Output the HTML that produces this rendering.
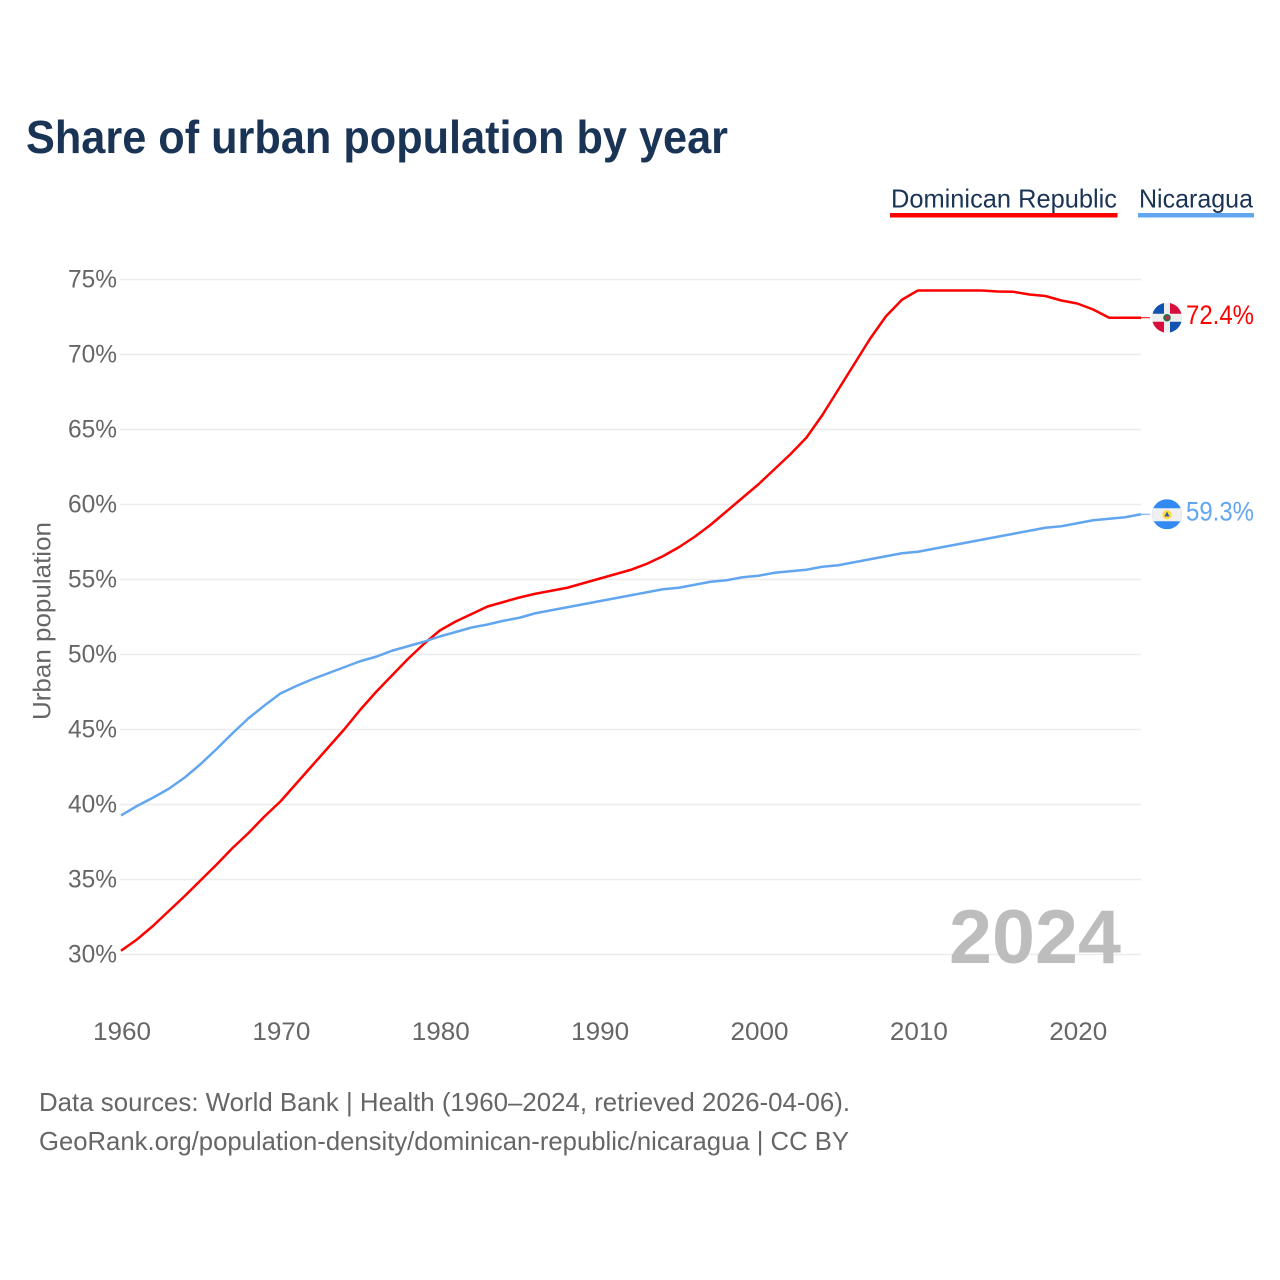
<!DOCTYPE html>
<html lang="en">
<head>
<meta charset="utf-8">
<title>Share of urban population by year</title>
<style>
html,body{margin:0;padding:0;background:#fff;}
svg{display:block;}
text{font-family:"Liberation Sans",sans-serif;}
</style>
</head>
<body>
<svg id="chart" xmlns="http://www.w3.org/2000/svg" width="1280" height="1280" viewBox="0 0 1280 1280">
  <rect x="0" y="0" width="1280" height="1280" fill="#fff"/>
  <text x="26" y="153" font-size="46" font-weight="700" fill="#1a3456" textLength="702" lengthAdjust="spacingAndGlyphs">Share of urban population by year</text>

  <g>
    <text x="891" y="207.5" font-size="26" fill="#1a3456" textLength="226" lengthAdjust="spacingAndGlyphs">Dominican Republic</text>
    <rect x="890" y="213" width="227.5" height="4.5" fill="#ff0000"/>
  </g>
  <g>
    <text x="1139" y="207.5" font-size="26" fill="#1a3456" textLength="114" lengthAdjust="spacingAndGlyphs">Nicaragua</text>
    <rect x="1138" y="213" width="116" height="4.5" fill="#62a6f0"/>
  </g>

  <text transform="translate(50.5,621) rotate(-90)" text-anchor="middle" font-size="25" fill="#666" textLength="198" lengthAdjust="spacingAndGlyphs">Urban population</text>

  <g id="grid"></g>
  <g id="yLabels"></g>
  <g id="xLabels"></g>

  <text x="949" y="963" font-size="76" font-weight="700" fill="#bdbdbd" textLength="172" lengthAdjust="spacingAndGlyphs">2024</text>

  <g id="series"></g>

  <defs>
    <clipPath id="flag-clip"><circle cx="0" cy="0" r="15"/></clipPath>
  </defs>

  <g id="flagDR">
    <g clip-path="url(#flag-clip)">
      <rect x="-15" y="-15" width="30" height="30" fill="#eeeeee"/>
      <rect x="-15" y="-15" width="12" height="11" fill="#0f52b0"/>
      <rect x="3" y="-15" width="12" height="11" fill="#d80f3c"/>
      <rect x="-15" y="4" width="12" height="11" fill="#d80f3c"/>
      <rect x="3" y="4" width="12" height="11" fill="#0f52b0"/>
      <circle cx="0" cy="0" r="3.8" fill="#2c6e4a"/>
      <circle cx="0" cy="0" r="2" fill="#b0303c"/>
    </g>
  </g>
  <g id="flagNI">
    <g clip-path="url(#flag-clip)">
      <rect x="-15" y="-15" width="30" height="30" fill="#338af3"/>
      <rect x="-15" y="-6" width="30" height="13" fill="#f0f0f0"/>
      <circle cx="0" cy="0.5" r="4.6" fill="#ffda44"/>
      <path d="M-2.6,2.2 L0,-2.6 L2.6,2.2 Z" fill="#2b5f9e"/>
    </g>
  </g>

  <text id="labelDR" x="1186" font-size="27" fill="#ff0000" textLength="68" lengthAdjust="spacingAndGlyphs"></text>
  <text id="labelNI" x="1186" font-size="27" fill="#62a6f0" textLength="68" lengthAdjust="spacingAndGlyphs"></text>

  <text x="39" y="1111" font-size="26" fill="#666" textLength="811" lengthAdjust="spacingAndGlyphs">Data sources: World Bank | Health (1960–2024, retrieved 2026-04-06).</text>
  <text x="39" y="1150" font-size="26" fill="#666" textLength="810" lengthAdjust="spacingAndGlyphs">GeoRank.org/population-density/dominican-republic/nicaragua | CC BY</text>
</svg>
<script>
const years = [1960,1961,1962,1963,1964,1965,1966,1967,1968,1969,1970,1971,1972,1973,1974,1975,1976,1977,1978,1979,1980,1981,1982,1983,1984,1985,1986,1987,1988,1989,1990,1991,1992,1993,1994,1995,1996,1997,1998,1999,2000,2001,2002,2003,2004,2005,2006,2007,2008,2009,2010,2011,2012,2013,2014,2015,2016,2017,2018,2019,2020,2021,2022,2023,2024];
const dominicanRepublic = [30.25,31.0,31.9,32.9,33.9,34.95,36.0,37.1,38.1,39.2,40.2,41.4,42.6,43.8,45.0,46.3,47.5,48.6,49.7,50.7,51.6,52.2,52.7,53.2,53.5,53.8,54.05,54.25,54.45,54.75,55.05,55.35,55.65,56.05,56.55,57.15,57.85,58.65,59.55,60.45,61.35,62.35,63.35,64.45,65.95,67.65,69.35,71.05,72.55,73.65,74.27,74.27,74.27,74.27,74.27,74.2,74.18,74.0,73.9,73.6,73.4,73.0,72.45,72.45,72.45];
const nicaragua = [39.27,39.9,40.45,41.05,41.8,42.7,43.7,44.75,45.75,46.6,47.4,47.9,48.35,48.75,49.15,49.55,49.85,50.25,50.55,50.85,51.2,51.5,51.8,52.0,52.25,52.45,52.75,52.95,53.15,53.35,53.55,53.75,53.95,54.15,54.35,54.45,54.65,54.85,54.95,55.15,55.25,55.45,55.55,55.65,55.85,55.95,56.15,56.35,56.55,56.75,56.85,57.05,57.25,57.45,57.65,57.85,58.05,58.25,58.45,58.55,58.75,58.95,59.05,59.15,59.35];
const yTickValues = [30,35,40,45,50,55,60,65,70,75];
const xTickValues = [1960,1970,1980,1990,2000,2010,2020];
const endLabelDR = "72.4%";
const endLabelNI = "59.3%";

const NS = "http://www.w3.org/2000/svg";
function xScale(year){ return 121 + (year - 1960) * (1020 / 64); }
function yScale(v){ return 954.5 - (v - 30) * 15; }
function pathFrom(values){
  return values.map(function(v,i){
    return (i ? "L" : "M") + xScale(years[i]).toFixed(2) + "," + yScale(v).toFixed(2);
  }).join(" ");
}

const grid = document.getElementById("grid");
const yLabels = document.getElementById("yLabels");
const xLabels = document.getElementById("xLabels");
const series = document.getElementById("series");

yTickValues.forEach(function(t){
  const line = document.createElementNS(NS,"line");
  
  
  line.setAttribute("x1",120);
  line.setAttribute("x2",1141);
  line.setAttribute("y1",yScale(t));
  line.setAttribute("y2",yScale(t));
  line.setAttribute("stroke","#ececec");
  line.setAttribute("stroke-width","1.4");
  grid.appendChild(line);

  const label = document.createElementNS(NS,"text");
  
  
  label.setAttribute("x",68);
  label.setAttribute("y",yScale(t)+8);
  label.setAttribute("font-size","25");
  label.setAttribute("fill","#666");
  label.setAttribute("textLength","49");
  label.setAttribute("lengthAdjust","spacingAndGlyphs");
  label.textContent = t + "%";
  yLabels.appendChild(label);
});

xTickValues.forEach(function(t){
  const label = document.createElementNS(NS,"text");
  
  
  label.setAttribute("x",xScale(t)+1-29);
  label.setAttribute("y",1040);
  label.setAttribute("font-size","25");
  label.setAttribute("fill","#666");
  label.setAttribute("textLength","58");
  label.setAttribute("lengthAdjust","spacingAndGlyphs");
  label.textContent = t;
  xLabels.appendChild(label);
});

function drawSeries(values,color,name){
  const p = document.createElementNS(NS,"path");
  
  
  p.setAttribute("d",pathFrom(values));
  p.setAttribute("fill","none");
  p.setAttribute("stroke",color);
  p.setAttribute("stroke-width","2.5");
  p.setAttribute("stroke-linejoin","round");
  series.appendChild(p);

  const last = yScale(values[values.length-1]);
  const c = document.createElementNS(NS,"line");
  
  
  c.setAttribute("x1",xScale(2024));
  c.setAttribute("x2",1150);
  c.setAttribute("y1",last);
  c.setAttribute("y2",last);
  c.setAttribute("stroke",color);
  c.setAttribute("stroke-width","1");
  series.appendChild(c);
}
drawSeries(dominicanRepublic,"#ff0000","line-dominican-republic");
drawSeries(nicaragua,"#62a6f0","line-nicaragua");

const lastDR = yScale(dominicanRepublic[dominicanRepublic.length-1]);
const lastNI = yScale(nicaragua[nicaragua.length-1]);
document.getElementById("flagDR").setAttribute("transform","translate(1167,"+lastDR+")");
document.getElementById("flagNI").setAttribute("transform","translate(1167,"+lastNI+")");
const lDR = document.getElementById("labelDR");
lDR.setAttribute("y",lastDR+6);
lDR.textContent = endLabelDR;
const lNI = document.getElementById("labelNI");
lNI.setAttribute("y",lastNI+6);
lNI.textContent = endLabelNI;
</script>
</body>
</html>
